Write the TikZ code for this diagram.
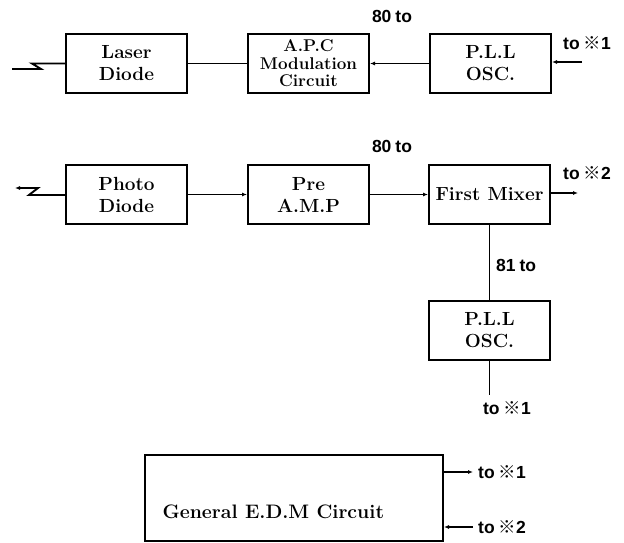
\documentclass[tikz,border=0pt]{standalone}
\usepackage{fontspec}
\setsansfont{Liberation Sans}
\newfontfamily\refmark{Noto Sans CJK JP}
\usetikzlibrary{positioning, arrows.meta}
\newcommand{\rmk}{\hspace{4pt}{\refmark ※}}
\tikzset{
  edm@block/.style={
    draw, line width=2pt, minimum width=121pt, minimum height=59pt,
    inner sep=0pt, align=center, font=\fontsize{19}{22}\selectfont\bfseries
  },
  edm@arr/.style={-{Latex[length=5pt,width=4pt]}, line width=1.9pt},
  edm@line/.style={line width=1.9pt},
  edm@lbl/.style={font=\fontsize{17.5}{19}\selectfont\sffamily\bfseries, inner sep=1pt},
}

\begin{document}
\begin{tikzpicture}[x=1pt, y=-1pt, node distance=59pt]
  \useasboundingbox (0,0) rectangle (624,543);
  \node[edm@block] (laser) at (126.5,63.5) {Laser\\Diode};
  \node[edm@block, right=of laser, font=\fontsize{17}{17.5}\selectfont\bfseries] (apc) {A.P.C\\Modulation\\Circuit};
  \node[edm@block, right=of apc]        (pll1)   {P.L.L\\OSC.};
  \node[edm@block] (photo) at (126.5,194.5) {Photo\\Diode};
  \node[edm@block, right=of photo]      (preamp) {Pre\\A.M.P};
  \node[edm@block, right=58pt of preamp] (mixer) {First Mixer};
  \node[edm@block, below=75pt of mixer] (pll2)   {P.L.L\\OSC.};
  \node[edm@block, minimum width=298pt, minimum height=86pt] (edm) at (294,498) {};
  \node[anchor=west, font=\fontsize{19.5}{22}\selectfont\bfseries] (edmtxt) at ([xshift=15pt, yshift=-14pt]edm.west) {General E.D.M Circuit};
  \node[edm@lbl] (lbl80a) at (392,16) {80\hspace{4pt}to};
  \node[edm@lbl, anchor=west] (to1a) at (562,43) {to\rmk1};
  \node[edm@lbl] (lbl80b) at (392,146) {80\hspace{4pt}to};
  \node[edm@lbl, anchor=west] (to2a) at (562,173) {to\rmk2};
  \node[edm@lbl, anchor=west] (lbl81) at (495,265) {81\hspace{4pt}to};
  \node[edm@lbl] (to1b) at (507,408) {to\rmk1};
  \node[edm@lbl, anchor=west] (to1c) at (477,472) {to\rmk1};
  \node[edm@lbl, anchor=west] (to2b) at (477,527) {to\rmk2};
  \coordinate (ld-in) at (12,69);
  \coordinate (ld-k1) at (41,69);
  \coordinate (ld-k2) at (32,63.5);
  \coordinate (pll1-in) at (582,62);
  \coordinate (pd-out) at (15,188);
  \coordinate (pd-k1) at (38,188);
  \coordinate (pd-k2) at (29,195);
  \coordinate (mix-out) at (578,193);
  \coordinate (pll2-out) at (485.5,395);
  \coordinate (edm-o1) at (473,472);
  \coordinate (edm-i2) at (473,527);
  % top row
  \draw[edm@line] (ld-in) -- (ld-k1) -- (ld-k2) -- (laser.west);
  \draw[edm@line] (laser) -- (apc);
  \draw[edm@arr] (pll1) -- (apc);
  \draw[edm@arr] (pll1-in) -- (pll1.east |- pll1-in);
  % second row
  \draw[edm@arr] (photo.west |- pd-k2) -- (pd-k2) -- (pd-k1) -- (pd-out);
  \draw[edm@arr] (photo) -- (preamp);
  \draw[edm@arr] (preamp) -- (mixer);
  \draw[edm@arr] (mixer.east |- mix-out) -- (mix-out);
  \draw[edm@line] (mixer) -- (pll2);
  \draw[edm@line] (pll2.south) -- (pll2.south |- pll2-out);
  % edm circuit
  \draw[edm@arr] (edm.east |- edm-o1) -- (edm-o1);
  \draw[edm@arr] (edm-i2) -- (edm.east |- edm-i2);
\end{tikzpicture}
\end{document}
